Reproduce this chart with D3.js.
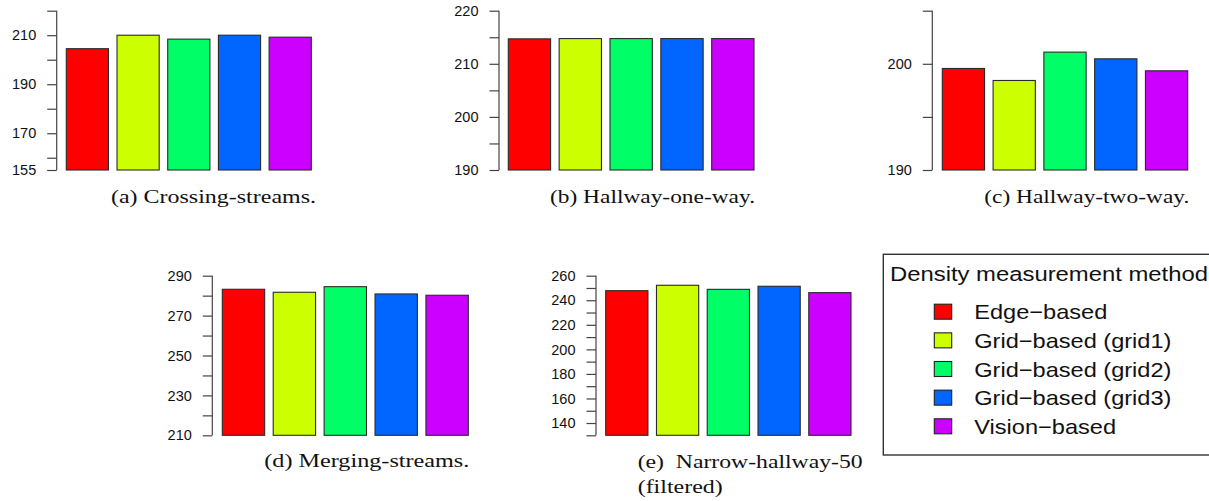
<!DOCTYPE html>
<html>
<head>
<meta charset="utf-8">
<script src="https://cdn.jsdelivr.net/npm/d3@7"></script>
<style>
  html, body { margin: 0; padding: 0; background: #fff; }
  svg { display: block; }
</style>
</head>
<body>
<svg id="chart" width="1209" height="501"></svg>
<script>
// Density measurement methods and their bar colours
const methods = ["Edge\u2212based", "Grid\u2212based (grid1)", "Grid\u2212based (grid2)", "Grid\u2212based (grid3)", "Vision\u2212based"];
const methodColors = ["#FF0000", "#CCFF00", "#00FF66", "#0066FF", "#CC00FF"];

// Measured values per scenario (one value per method)
const crossingStreams = [204.5, 210.0, 208.4, 210.0, 209.2];
const hallwayOneWay   = [214.7, 214.75, 214.75, 214.75, 214.75];
const hallwayTwoWay   = [199.56, 198.43, 201.1, 200.47, 199.34];
const mergingStreams  = [283.2, 281.7, 284.5, 280.85, 280.2];
const narrowHallway50 = [247.8, 252.2, 248.9, 251.4, 246.2];

// Y axis extents, tick positions and labelled ticks per scenario
const domainA = [155, 220], ticksA = [155, 160, 170, 180, 190, 200, 210, 220], labelsA = [155, 170, 190, 210];
const domainB = [190, 220], ticksB = [190, 195, 200, 205, 210, 215, 220],     labelsB = [190, 200, 210, 220];
const domainC = [190, 205], ticksC = [190, 195, 200, 205],                    labelsC = [190, 200];
const domainD = [210, 290], ticksD = [210, 220, 230, 240, 250, 260, 270, 280, 290], labelsD = [210, 230, 250, 270, 290];
const domainE = [130, 260], ticksE = [130, 140, 150, 160, 170, 180, 190, 200, 210, 220, 230, 240, 250, 260],
      labelsE = [140, 160, 180, 200, 220, 240, 260];

// Sub-figure captions
const captionA = ["(a) Crossing-streams."];
const captionB = ["(b) Hallway-one-way."];
const captionC = ["(c) Hallway-two-way."];
const captionD = ["(d) Merging-streams."];
const captionE = ["(e)\u00a0\u00a0Narrow-hallway-50", "(filtered)"];
const legendTitle = "Density measurement method";

// Panel layout
const panels = [
  { values: crossingStreams, domain: domainA, ticks: ticksA, labels: labelsA, caption: captionA,
    axisX: 56.7, barX: [66.3, 311.3], yRange: [170, 10.7], capX: 111, capY: [203.3], capW: [205] },
  { values: hallwayOneWay, domain: domainB, ticks: ticksB, labels: labelsB, caption: captionB,
    axisX: 499, barX: [508.3, 754], yRange: [170, 10.7], capX: 550, capY: [203.3], capW: [205] },
  { values: hallwayTwoWay, domain: domainC, ticks: ticksC, labels: labelsC, caption: captionC,
    axisX: 932.3, barX: [942.3, 1187.7], yRange: [170, 10.7], capX: 984.3, capY: [203.3], capW: [205] },
  { values: mergingStreams, domain: domainD, ticks: ticksD, labels: labelsD, caption: captionD,
    axisX: 212.3, barX: [222.3, 468.3], yRange: [435.3, 275.7], capX: 264.3, capY: [467.3], capW: [205] },
  { values: narrowHallway50, domain: domainE, ticks: ticksE, labels: labelsE, caption: captionE,
    axisX: 596, barX: [605.7, 851], yRange: [435.3, 275.7], capX: 637.7, capY: [468.3, 493.3], capW: [225, 85] }
];

const svg = d3.select("#chart");
const sansFont = "'Liberation Sans', Arial, Helvetica, sans-serif";
const serifFont = "'Liberation Serif', 'DejaVu Serif', serif";

const color = d3.scaleOrdinal().domain(methods).range(methodColors);

panels.forEach(p => {
  const g = svg.append("g");
  const x = d3.scaleBand().domain(methods).range(p.barX).paddingInner(0.168).paddingOuter(0);
  const y = d3.scaleLinear().domain(p.domain).range(p.yRange);

  // bars
  g.selectAll("rect.bar")
    .data(p.values.map((v, i) => ({ method: methods[i], value: v })))
    .join("rect")
    .attr("class", "bar")
    .attr("x", d => x(d.method))
    .attr("width", x.bandwidth())
    .attr("y", d => y(d.value))
    .attr("height", d => y(p.domain[0]) - y(d.value))
    .attr("fill", d => color(d.method))
    .attr("stroke", "#2a2a2a")
    .attr("stroke-width", 1.1);

  // y axis
  const axis = d3.axisLeft(y)
    .tickValues(p.ticks)
    .tickSize(9.5)
    .tickPadding(11)
    .tickFormat(d => p.labels.includes(d) ? String(d) : "");
  const ag = g.append("g").attr("transform", `translate(${p.axisX},0)`).call(axis);
  ag.select(".domain").attr("stroke", "#444").attr("stroke-width", 1.2)
    .attr("d", `M0,${y(p.domain[0])}V${y(p.domain[1])}`);
  ag.selectAll(".tick line").attr("stroke", "#444").attr("stroke-width", 1.2);
  ag.selectAll(".tick text")
    .attr("fill", "#111")
    .style("font-family", sansFont)
    .style("font-size", "14.5px");

  // caption
  p.caption.forEach((line, i) => {
    g.append("text")
      .attr("x", p.capX)
      .attr("y", p.capY[i])
      .attr("textLength", p.capW[i])
      .attr("lengthAdjust", "spacingAndGlyphs")
      .style("font-family", serifFont)
      .style("font-size", "19.5px")
      .attr("fill", "#111")
      .text(line);
  });
});

// Legend
const legend = svg.append("g");
legend.append("rect")
  .attr("x", 883.3).attr("y", 254.3)
  .attr("width", 400).attr("height", 200.7)
  .attr("fill", "none").attr("stroke", "#333").attr("stroke-width", 1.4);

legend.append("text")
  .attr("x", 890).attr("y", 281)
  .attr("textLength", 318).attr("lengthAdjust", "spacingAndGlyphs")
  .style("font-family", sansFont).style("font-size", "20.5px")
  .attr("fill", "#111")
  .text(legendTitle);

const rowY = d3.scalePoint().domain(methods).range([311.7, 426.3]);
const rows = legend.selectAll("g.row").data(methods).join("g").attr("class", "row")
  .attr("transform", d => `translate(0,${rowY(d)})`);
rows.append("rect")
  .attr("x", 934.3).attr("y", -7.5).attr("width", 17.4).attr("height", 15)
  .attr("fill", d => color(d)).attr("stroke", "#222").attr("stroke-width", 1.1);
rows.append("text")
  .attr("x", 974.3).attr("y", 7.6)
  .attr("transform", "translate(974.3,0) scale(1.15,1) translate(-974.3,0)")
  .style("font-family", sansFont).style("font-size", "20.5px")
  .attr("fill", "#111")
  .text(d => d);
</script>
</body>
</html>
